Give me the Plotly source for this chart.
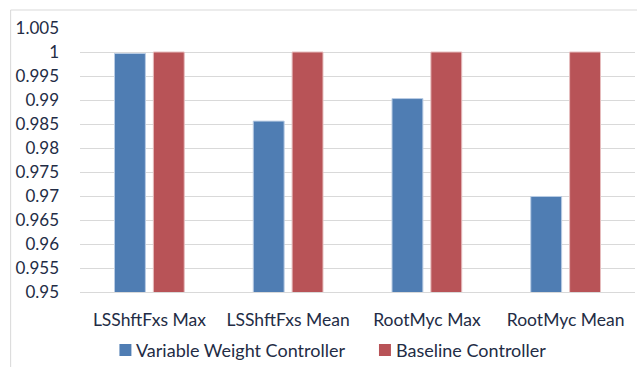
import plotly.graph_objects as go

categories = ["LSShftFxs Max", "LSShftFxs Mean", "RootMyc Max", "RootMyc Mean"]
variable_weight = [0.9997, 0.9856, 0.9903, 0.9699]
baseline = [1.0, 1.0, 1.0, 1.0]
series_names = ["Variable Weight Controller", "Baseline Controller"]
series_colors = ["#4F7DB3", "#B85357"]
series_edges = ["#B9CCE4", "#E6BDBE"]
y_ticks = [0.95, 0.955, 0.96, 0.965, 0.97, 0.975, 0.98, 0.985, 0.99, 0.995, 1.0, 1.005]
y_tick_labels = ["0.95", "0.955", "0.96", "0.965", "0.97", "0.975", "0.98", "0.985", "0.99", "0.995", "1", "1.005"]

TEXT = "#232C45"
FONT = "Lato"

fig = go.Figure()
for name, vals, c, e in zip(series_names, [variable_weight, baseline], series_colors, series_edges):
    fig.add_trace(go.Bar(
        x=categories, y=vals, name=name, showlegend=False,
        marker=dict(color=c, line=dict(color=e, width=1)),
    ))

W, H = 637, 367
L, R, T, B = 79.5, 1.5, 28, 75
pw, ph = W - L - R, H - T - B

def px_x(p):
    return (p - L) / pw

def px_y(p):
    return (H - B - p) / ph

# manual legend (square + label), positioned like the reference
legend_x = [119, 379]
shapes = [dict(
    type="rect", xref="paper", yref="paper", layer="below",
    x0=px_x(10), x1=1.2, y0=-1.0, y1=px_y(10),
    line=dict(color="#D9D9D9", width=1), fillcolor="rgba(0,0,0,0)",
)]
annotations = []
for lx, name, c in zip(legend_x, series_names, series_colors):
    shapes.append(dict(
        type="rect", xref="paper", yref="paper",
        x0=px_x(lx), x1=px_x(lx + 12), y0=px_y(356), y1=px_y(344),
        line=dict(width=0), fillcolor=c,
    ))
    annotations.append(dict(
        xref="paper", yref="paper", x=px_x(lx + 15), y=px_y(350),
        xanchor="left", yanchor="middle", showarrow=False, text=name,
        font=dict(family=FONT, size=18, color=TEXT),
    ))

fig.update_layout(
    width=W, height=H,
    margin=dict(l=L, r=R, t=T, b=B, pad=0),
    paper_bgcolor="white", plot_bgcolor="white",
    barmode="group", bargap=0.44, bargroupgap=0.205,
    font=dict(family=FONT, size=17, color=TEXT),
    showlegend=False,
    xaxis=dict(
        showgrid=False, showline=True, linecolor="#D9D9D9", linewidth=1,
        ticks="", ticklabelstandoff=12,
        tickfont=dict(family=FONT, size=17.5, color=TEXT),
    ),
    yaxis=dict(
        range=[0.95, 1.005], tickvals=y_ticks, ticktext=y_tick_labels,
        showgrid=True, gridcolor="#D9D9D9", gridwidth=1,
        zeroline=False, showline=False, ticks="", ticklabelstandoff=20,
        tickfont=dict(family=FONT, size=17, color=TEXT),
    ),
    shapes=shapes,
    annotations=annotations,
)

fig.write_html(
    "out.html",
    config={"displayModeBar": False},
    post_script="document.body.style.margin='0';document.body.style.overflow='hidden';",
)
